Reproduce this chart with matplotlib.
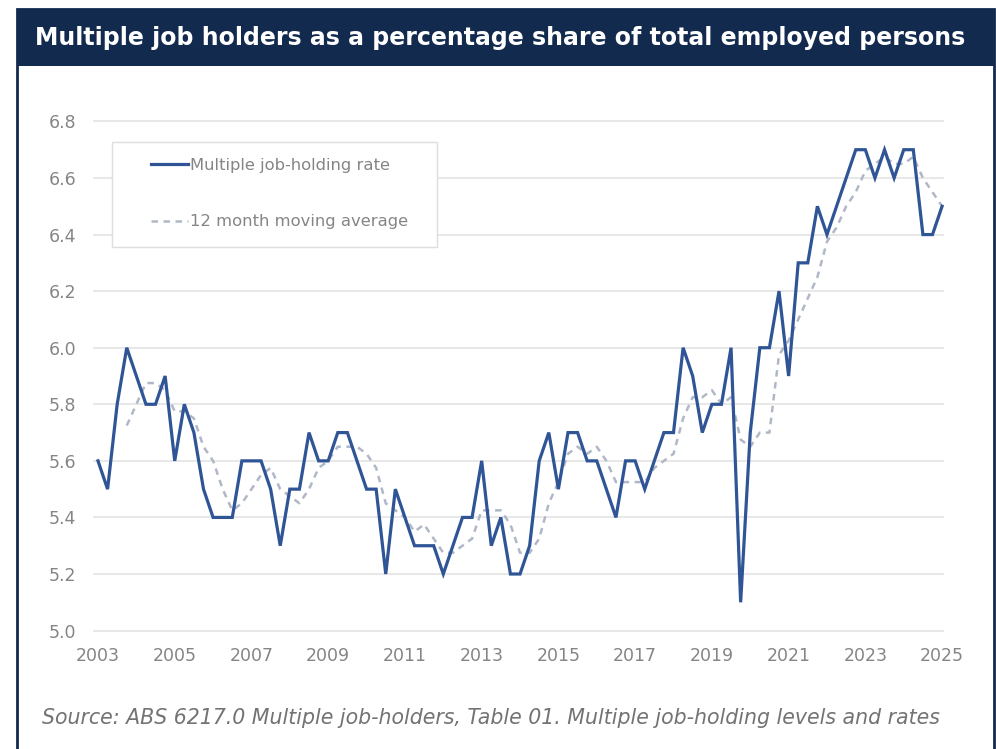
import numpy as np
import matplotlib
matplotlib.use("Agg")
import matplotlib.pyplot as plt
from matplotlib.patches import Rectangle
from matplotlib.lines import Line2D

# Quarterly multiple job-holding rate (%), 2003 Q1 to 2025 Q1
rate = [
    5.6, 5.5, 5.8, 6.0,   # 2003
    5.9, 5.8, 5.8, 5.9,   # 2004
    5.6, 5.8, 5.7, 5.5,   # 2005
    5.4, 5.4, 5.4, 5.6,   # 2006
    5.6, 5.6, 5.5, 5.3,   # 2007
    5.5, 5.5, 5.7, 5.6,   # 2008
    5.6, 5.7, 5.7, 5.6,   # 2009
    5.5, 5.5, 5.2, 5.5,   # 2010
    5.4, 5.3, 5.3, 5.3,   # 2011
    5.2, 5.3, 5.4, 5.4,   # 2012
    5.6, 5.3, 5.4, 5.2,   # 2013
    5.2, 5.3, 5.6, 5.7,   # 2014
    5.5, 5.7, 5.7, 5.6,   # 2015
    5.6, 5.5, 5.4, 5.6,   # 2016
    5.6, 5.5, 5.6, 5.7,   # 2017
    5.7, 6.0, 5.9, 5.7,   # 2018
    5.8, 5.8, 6.0, 5.1,   # 2019
    5.7, 6.0, 6.0, 6.2,   # 2020
    5.9, 6.3, 6.3, 6.5,   # 2021
    6.4, 6.5, 6.6, 6.7,   # 2022
    6.7, 6.6, 6.7, 6.6,   # 2023
    6.7, 6.7, 6.4, 6.4,   # 2024
    6.5,                  # 2025
]

# 12 month moving average, available from 2003 Q4 onwards
moving_avg = [
    5.725,                          # 2003 Q4
    5.800, 5.875, 5.875, 5.850,     # 2004
    5.775, 5.775, 5.750, 5.650,     # 2005
    5.600, 5.500, 5.425, 5.450,     # 2006
    5.500, 5.550, 5.575, 5.500,     # 2007
    5.475, 5.450, 5.500, 5.575,     # 2008
    5.600, 5.650, 5.650, 5.650,     # 2009
    5.625, 5.575, 5.450, 5.425,     # 2010
    5.400, 5.350, 5.375, 5.325,     # 2011
    5.275, 5.275, 5.300, 5.325,     # 2012
    5.425, 5.425, 5.425, 5.375,     # 2013
    5.275, 5.275, 5.325, 5.450,     # 2014
    5.525, 5.625, 5.650, 5.625,     # 2015
    5.650, 5.600, 5.525, 5.525,     # 2016
    5.525, 5.525, 5.575, 5.600,     # 2017
    5.625, 5.750, 5.825, 5.825,     # 2018
    5.850, 5.800, 5.825, 5.675,     # 2019
    5.650, 5.700, 5.700, 5.975,     # 2020
    6.025, 6.100, 6.175, 6.250,     # 2021
    6.375, 6.425, 6.500, 6.550,     # 2022
    6.625, 6.650, 6.675, 6.650,     # 2023
    6.650, 6.675, 6.600, 6.550,     # 2024
    6.500,                          # 2025
]

first_year = 2003
quarter_years = first_year + np.arange(len(rate)) / 4.0
ma_years = quarter_years[len(rate) - len(moving_avg):]

x_ticks = list(range(2003, 2026, 2))
y_ticks = [5.0, 5.2, 5.4, 5.6, 5.8, 6.0, 6.2, 6.4, 6.6, 6.8]

title = "Multiple job holders as a percentage share of total employed persons"
source = "Source: ABS 6217.0 Multiple job-holders, Table 01. Multiple job-holding levels and rates"
label_rate = "Multiple job-holding rate"
label_ma = "12 month moving average"

NAVY = "#132a4f"
LINE_BLUE = "#2f5596"
MA_GREY = "#b0b8c8"
TICK_GREY = "#858585"
GRID_GREY = "#e8e8e8"

W, H = 996, 749
fig = plt.figure(figsize=(W / 100, H / 100), dpi=100)
fig.patch.set_facecolor("white")


def fx(px):
    return px / W


def fy(py):
    return 1 - py / H


# panel frame and title bar
fig.patches.append(Rectangle((fx(17), -0.01), fx(977), fy(9) + 0.01, transform=fig.transFigure,
                             facecolor="white", edgecolor=NAVY, linewidth=2.0, zorder=-5))
fig.patches.append(Rectangle((fx(17), fy(66)), fx(977), fy(9) - fy(66), transform=fig.transFigure,
                             facecolor=NAVY, edgecolor=NAVY, linewidth=0, zorder=-4))
fig.text(fx(35), fy(38), title, color="white", fontsize=17.0, fontweight="bold",
         family="DejaVu Sans", ha="left", va="center")

# plotting area
ax = fig.add_axes([fx(93), fy(632), fx(944) - fx(93), fy(120) - fy(632)])
ax.set_facecolor("white")
ax.set_xlim(2002.87, 2025.05)
ax.set_ylim(4.995, 6.805)
ax.set_yticks(y_ticks)
ax.set_yticklabels([f"{v:.1f}" for v in y_ticks])
ax.set_xticks(x_ticks)
ax.set_xticklabels([str(v) for v in x_ticks])
ax.tick_params(axis="both", length=0, labelsize=12.5, colors=TICK_GREY)
ax.tick_params(axis="y", pad=12)
ax.tick_params(axis="x", pad=11)
for lab in ax.get_xticklabels() + ax.get_yticklabels():
    lab.set_family("DejaVu Sans")
for s in ax.spines.values():
    s.set_visible(False)
ax.grid(axis="y", color=GRID_GREY, linewidth=1.5)
ax.set_axisbelow(True)

ax.plot(ma_years, moving_avg, color=MA_GREY, linewidth=1.8, linestyle=(0, (2.6, 2.2)), zorder=3)
ax.plot(quarter_years, rate, color=LINE_BLUE, linewidth=2.3, zorder=4, solid_joinstyle="miter")

# legend box
ax.add_patch(Rectangle(((112 - 93) / 851, (632 - 247) / 512), 325 / 851, 105 / 512,
                       transform=ax.transAxes, facecolor="white", edgecolor="#dedede",
                       linewidth=1.0, zorder=5))
handles = [
    Line2D([], [], color=LINE_BLUE, linewidth=2.3),
    Line2D([], [], color=MA_GREY, linewidth=1.8, linestyle=(0, (2.6, 2.2))),
]
leg = ax.legend(handles, [label_rate, label_ma], loc="upper left",
                bbox_to_anchor=((144 - 93) / 851, (632 - 151) / 512),
                frameon=False, fontsize=11.8, handlelength=2.3, handletextpad=0.12,
                labelspacing=2.55, borderaxespad=0)
leg.set_zorder(6)
for t in leg.get_texts():
    t.set_color(TICK_GREY)

fig.text(fx(42), fy(718), source, color="#737373", fontsize=14.8, style="italic",
         family="DejaVu Sans", ha="left", va="center")

fig.savefig("out.png", dpi=100, facecolor="white")
